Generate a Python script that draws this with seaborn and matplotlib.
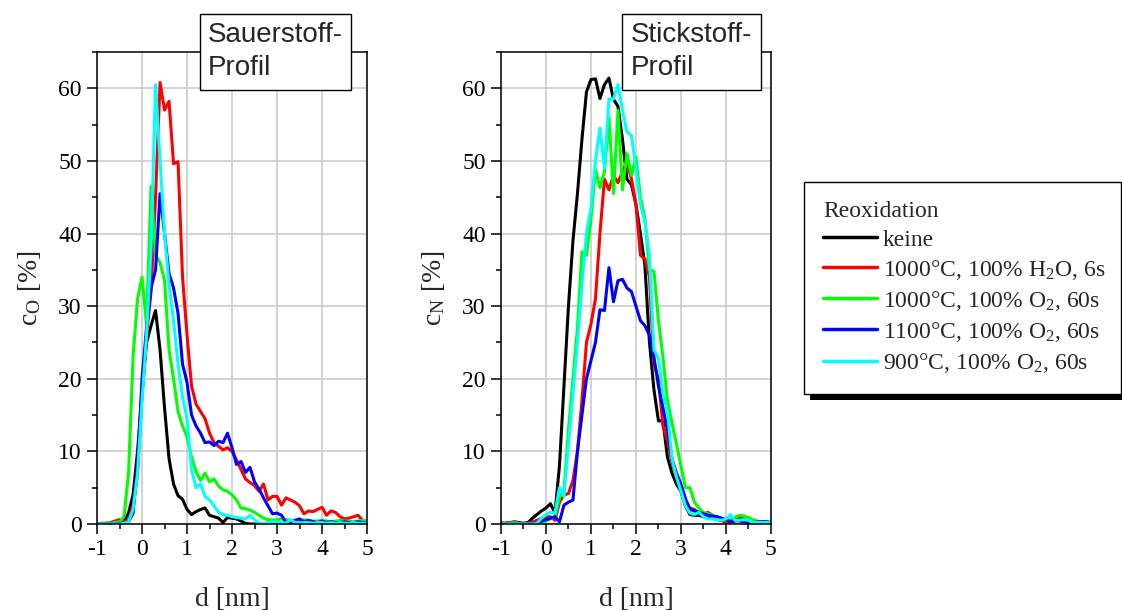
import numpy as np
import pandas as pd
import seaborn as sns
import matplotlib.pyplot as plt
from matplotlib.patches import Rectangle
from matplotlib.ticker import MultipleLocator

# depth grid in nm (sampling positions)
depth = np.round(np.linspace(-1, 5, 61), 1)

series = [
    "keine",
    "1000°C, 100% H$_2$O, 6s",
    "1000°C, 100% O$_2$, 60s",
    "1100°C, 100% O$_2$, 60s",
    "900°C, 100% O$_2$, 60s",
]
colors = ["#000000", "#ff0000", "#00ff00", "#0000ff", "#00ffff"]

# Sauerstoff-Profil, c_O [%]
o_keine = [0, 0, 0, 0.1, 0.2, 0.3, 0.5, 1.5, 4, 10,
           18, 25, 27.3, 29.4, 24, 16, 9, 5.5, 3.9, 3.4,
           2.0, 1.3, 1.7, 2.0, 2.2, 1.2, 1.0, 0.8, 0.2, 0.9,
           0.8, 0.7, 0.4, 0.1, 0, 0, 0, 0, 0, 0,
           0, 0, 0, 0, 0, 0, 0, 0, 0, 0,
           0, 0, 0, 0, 0, 0, 0, 0, 0, 0,
           0]
o_h2o_1000 = [0, 0.1, 0.1, 0.2, 0.4, 0.6, 0.3, 0.6, 2.5, 7,
              18, 26, 32, 45, 60.8, 57, 58.2, 49.6, 49.9, 34,
              26, 19, 16.5, 15.5, 14.5, 12.5, 11.2, 10.7, 10.2, 10.5,
              10, 8.8, 7.5, 6.2, 5.7, 5.3, 4.5, 5.5, 3.3, 3.8,
              3.8, 2.6, 3.6, 3.3, 3.0, 2.5, 1.4, 1.8, 1.7, 2.0,
              2.3, 1.2, 1.8, 1.6, 1.0, 0.7, 0.8, 1.0, 1.2, 0.5,
              0.3]
o_o2_1000 = [0.1, 0, 0.1, 0.1, 0.2, 0.3, 1.0, 7, 23, 31,
             34, 27.5, 46.5, 37, 36, 33.5, 24, 20, 15.5, 13.5,
             12, 9.2, 7.2, 6, 7, 5.8, 6.2, 5.2, 4.7, 4.5,
             4, 3.3, 2.2, 2.1, 1.9, 1.6, 1.2, 0.8, 0.6, 0.5,
             0.6, 0.7, 0.6, 0.5, 0.4, 0.5, 0.6, 0.5, 0.4, 0.4,
             0.5, 0.4, 0.3, 0.4, 0.5, 0.4, 0.4, 0.3, 0.4, 0.5,
             0.4]
o_o2_1100 = [0, 0, 0, 0, 0, 0.1, 0.1, 0.3, 1.5, 8,
             20, 27, 32.5, 35, 45.5, 40, 34.5, 32.5, 29, 22,
             19.5, 15, 13.5, 12.5, 11.2, 11.3, 10.8, 11.4, 11.2, 12.5,
             10.5, 8.2, 8.6, 7.1, 7.8, 5.8, 4.8, 3.6, 2.5, 1.4,
             1.5, 1.2, 0.2, 0.3, 0.5, 0.7, 0.3, 0.5, 0.3, 0.2,
             0.4, 0.2, 0.3, 0.2, 0.2, 0.3, 0.2, 0.2, 0.3, 0.2,
             0.2]
o_o2_900 = [0, 0, 0, 0, 0, 0, 0.1, 0.3, 2, 7,
            17, 26, 38, 60.5, 50, 40, 33, 28, 22, 17.5,
            14.5, 7.5, 5.0, 5.5, 3.8, 3.3, 2.5, 1.6, 1.3, 1.2,
            1.0, 0.9, 0.8, 0.7, 1.2, 0.6, 0.1, 0.1, 0.2, 0.3,
            0.3, 0.2, 0.1, 0.6, 0.2, 0.1, 0.2, 0.2, 0.1, 0.2,
            0.2, 0.1, 0.2, 0.1, 0.2, 0.1, 0.1, 0.2, 0.1, 0.1,
            0.1]

# Stickstoff-Profil, c_N [%]
n_keine = [0, 0.1, 0.2, 0.3, 0.2, 0.1, 0.2, 0.8, 1.3, 1.8,
           2.2, 2.8, 1.5, 8, 19, 30, 39, 45.5, 53, 59.5,
           61.2, 61.3, 58.6, 60.5, 61.4, 58.5, 57.5, 53, 47.5, 46.7,
           44, 40, 35.5, 25, 18.5, 14.2, 14.2, 9.2, 7, 5.5,
           4.5, 2.5, 1.3, 1.2, 1.2, 1.0, 1.0, 0.8, 0.6, 0.5,
           0.4, 0.3, 0.4, 0.5, 0.4, 0.3, 0.1, 0.1, 0.1, 0.1,
           0]
n_h2o_1000 = [0.2, 0.1, 0.2, 0.1, 0, 0, 0.1, 0.3, 0.5, 0.8,
              1.0, 1.0, 0.5, 3, 4, 4.2, 6, 10, 17, 25,
              27.5, 31, 40, 47.5, 46, 48, 47, 48.5, 50, 47.5,
              44, 37, 36.5, 34, 22, 20, 13.5, 11.5, 8.5, 6.5,
              5, 3, 2.2, 2, 1.5, 1.3, 1.6, 1.2, 0.8, 0.5,
              0.2, 0.3, 0.6, 0.9, 0.7, 0.5, 0.3, 0.3, 0.3, 0.3,
              0.2]
n_o2_1000 = [0, 0, 0.1, 0.2, 0.1, 0, 0, 0.1, 0.1, 0.2,
             0.4, 0.7, 1.0, 3.6, 4.5, 13, 20, 27, 37.5, 37,
             42, 48.8, 46.3, 48.5, 56, 45.5, 57, 46, 51, 48,
             50.5, 45, 42, 35, 34.8, 28, 23, 17, 14, 11,
             8, 5, 5, 3, 2.2, 1.6, 1.4, 1.2, 1.0, 0.8,
             0.5, 0.6, 0.9, 1.2, 1.1, 0.9, 0.6, 0.4, 0.3, 0.3,
             0.2]
n_o2_1100 = [0, 0, 0, 0, 0, 0, 0, 0.1, 0.2, 0.4,
             0.6, 0.8, 1.0, 0.3, 2.6, 3, 3.3, 10, 15, 20,
             22.5, 25, 29.5, 29.4, 35.3, 30.6, 33.5, 33.7, 32.5, 32,
             30, 28, 27.3, 26, 23, 19, 16, 13, 9, 7,
             5.5, 3.5, 2, 1.8, 1.6, 1.4, 1.2, 1.1, 1.0, 0.8,
             0.6, 0.3, 0.6, 0.4, 0.3, 0.2, 0.2, 0.3, 0.3, 0.3,
             0.2]
n_o2_900 = [0, 0, 0, 0, 0, 0, 0, 0, 0.1, 0.8,
            1.3, 1.6, 1.5, 5, 3.8, 11, 18, 25, 33, 40,
            43.5, 50, 54.5, 49, 58.5, 58.5, 60.5, 57, 54, 53.5,
            49, 44, 41.5, 37, 24, 22.8, 18, 15.5, 9, 6.5,
            4.5, 2.5, 1.5, 1.3, 1.6, 1.0, 0.7, 0.7, 0.6, 0.5,
            0.7, 1.3, 0.5, 0.5, 0.6, 0.5, 0.2, 0.2, 0.2, 0.2,
            0.2]


def long_frame(profiles):
    parts = []
    for name, vals in zip(series, profiles):
        parts.append(pd.DataFrame({"d": depth, "c": vals, "Reoxidation": name}))
    return pd.concat(parts, ignore_index=True)


df_o = long_frame([o_keine, o_h2o_1000, o_o2_1000, o_o2_1100, o_o2_900])
df_n = long_frame([n_keine, n_h2o_1000, n_o2_1000, n_o2_1100, n_o2_900])

sns.set_theme(style="ticks", rc={"axes.edgecolor": "black", "axes.linewidth": 1.1,
                                 "xtick.color": "black", "ytick.color": "black"})
plt.rcParams["font.family"] = ["Liberation Serif", "DejaVu Serif"]
plt.rcParams["mathtext.default"] = "regular"
plt.rcParams["axes.unicode_minus"] = False

fig = plt.figure(figsize=(11.22, 6.10), dpi=100)
ax_o = fig.add_axes([0.0865, 0.141, 0.2406, 0.7738])
ax_n = fig.add_axes([0.4465, 0.141, 0.2406, 0.7738])
palette = dict(zip(series, colors))

panels = [
    (ax_o, df_o, "c$_O$ [%]", "Sauerstoff-\nProfil", 0.411),
    (ax_n, df_n, "c$_N$ [%]", "Stickstoff-\nProfil", 0.481),
]

for ax, df, ylab, title, tx in panels:
    sns.lineplot(data=df, x="d", y="c", hue="Reoxidation", hue_order=series,
                 palette=palette, lw=2.2, ax=ax, errorbar=None,
                 legend=(ax is ax_o))
    ax.set_xlim(-1, 5)
    ax.set_ylim(0, 65)
    ax.xaxis.set_major_locator(MultipleLocator(1))
    ax.xaxis.set_minor_locator(MultipleLocator(0.5))
    ax.yaxis.set_major_locator(MultipleLocator(10))
    ax.yaxis.set_minor_locator(MultipleLocator(5))
    ax.grid(True, which="major", color="#c8c8c8", lw=1.1)
    ax.set_axisbelow(True)
    ax.tick_params(which="major", direction="out", length=7, width=1.1, labelsize=17, pad=4)
    ax.tick_params(which="minor", direction="out", length=3.6, width=1.1)
    ax.set_xlabel("d [nm]", fontsize=20, labelpad=19)
    ax.set_ylabel(ylab, fontsize=20, labelpad=11)
    for s in ax.spines.values():
        s.set_visible(True)
        s.set_color("black")
    ax.text(tx, 1.0, title, transform=ax.transAxes, ha="left", va="center",
            family=["Liberation Sans", "DejaVu Sans"], fontsize=20, zorder=10,
            linespacing=1.35,
            bbox=dict(boxstyle="square,pad=0.3", fc="white", ec="black", lw=1.0))

sns.move_legend(ax_o, "upper left",
                bbox_to_anchor=(804 / 1122, 218 / 610, 317 / 1122, 210 / 610),
                bbox_transform=fig.transFigure, mode="expand", borderaxespad=0,
                frameon=True, fancybox=False, framealpha=1, edgecolor="black",
                fontsize=17, title_fontsize=17, alignment="left",
                borderpad=0.8, labelspacing=0.3, handlelength=2.3, handletextpad=0.25)
leg = ax_o.get_legend()
leg.get_frame().set_linewidth(1.0)
for h in leg.legend_handles:
    h.set_linewidth(2.5)

# black drop shadow under the legend box
fig.canvas.draw()
bb = leg.get_window_extent().transformed(fig.transFigure.inverted())
dx, dy = 6 / 1122, 6 / 610
fig.add_artist(Rectangle((bb.x0 + dx, bb.y0 - dy), bb.width, bb.height,
                         transform=fig.transFigure, fc="black", ec="none", zorder=-1))

fig.savefig("out.png", dpi=100)
